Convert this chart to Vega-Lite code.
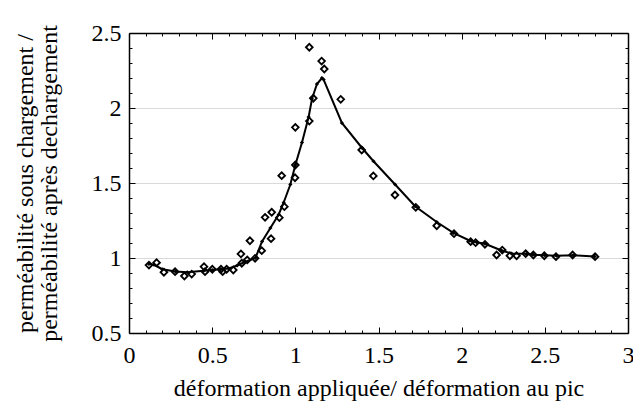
{
  "$schema": "https://vega.github.io/schema/vega-lite/v6.json",
  "autosize": "none",
  "padding": {"left": 129, "top": 33, "right": 5, "bottom": 73},
  "width": 499,
  "height": 300,
  "background": "white",
  "config": {
    "view": {"stroke": null},
    "font": "Liberation Serif",
    "axis": {
      "labelFont": "Liberation Serif",
      "titleFont": "Liberation Serif",
      "labelFontSize": 24,
      "titleFontSize": 24,
      "labelColor": "black",
      "titleColor": "black",
      "titleFontWeight": "normal",
      "domainColor": "black",
      "domainWidth": 1.5,
      "tickColor": "black",
      "tickWidth": 1,
      "labelOverlap": false,
      "labelFlush": false
    }
  },
  "datasets": {
    "mesures": [
      {"x": 0.12, "y": 0.953}, {"x": 0.166, "y": 0.969}, {"x": 0.21, "y": 0.905},
      {"x": 0.277, "y": 0.909}, {"x": 0.333, "y": 0.88}, {"x": 0.377, "y": 0.893},
      {"x": 0.451, "y": 0.942}, {"x": 0.457, "y": 0.909}, {"x": 0.501, "y": 0.925},
      {"x": 0.553, "y": 0.925}, {"x": 0.563, "y": 0.909}, {"x": 0.587, "y": 0.925},
      {"x": 0.627, "y": 0.92}, {"x": 0.673, "y": 1.027}, {"x": 0.678, "y": 0.965},
      {"x": 0.711, "y": 0.987}, {"x": 0.727, "y": 1.115}, {"x": 0.758, "y": 0.998},
      {"x": 0.798, "y": 1.049}, {"x": 0.818, "y": 1.271}, {"x": 0.854, "y": 1.129},
      {"x": 0.858, "y": 1.305}, {"x": 0.904, "y": 1.269}, {"x": 0.918, "y": 1.549},
      {"x": 0.934, "y": 1.342}, {"x": 0.998, "y": 1.535}, {"x": 1.0, "y": 1.871},
      {"x": 1.0, "y": 1.62}, {"x": 1.084, "y": 1.913}, {"x": 1.084, "y": 2.405},
      {"x": 1.108, "y": 2.065}, {"x": 1.158, "y": 2.313}, {"x": 1.174, "y": 2.26},
      {"x": 1.273, "y": 2.058}, {"x": 1.399, "y": 1.72}, {"x": 1.469, "y": 1.547},
      {"x": 1.599, "y": 1.42}, {"x": 1.724, "y": 1.338}, {"x": 1.85, "y": 1.215},
      {"x": 1.954, "y": 1.162}, {"x": 2.054, "y": 1.109}, {"x": 2.084, "y": 1.102},
      {"x": 2.14, "y": 1.091}, {"x": 2.21, "y": 1.02}, {"x": 2.244, "y": 1.053},
      {"x": 2.29, "y": 1.015}, {"x": 2.33, "y": 1.015}, {"x": 2.385, "y": 1.029},
      {"x": 2.431, "y": 1.02}, {"x": 2.497, "y": 1.015}, {"x": 2.567, "y": 1.009},
      {"x": 2.667, "y": 1.02}, {"x": 2.802, "y": 1.009}
    ],
    "courbe": [
      {"x": 0.12, "y": 0.96}, {"x": 0.15, "y": 0.955}, {"x": 0.2, "y": 0.925},
      {"x": 0.28, "y": 0.91}, {"x": 0.35, "y": 0.905}, {"x": 0.45, "y": 0.915},
      {"x": 0.5, "y": 0.92}, {"x": 0.55, "y": 0.925}, {"x": 0.6, "y": 0.93},
      {"x": 0.65, "y": 0.95}, {"x": 0.7, "y": 0.975}, {"x": 0.76, "y": 1.0},
      {"x": 0.8, "y": 1.11}, {"x": 0.85, "y": 1.2}, {"x": 0.9, "y": 1.29},
      {"x": 0.93, "y": 1.37}, {"x": 0.97, "y": 1.49}, {"x": 1.0, "y": 1.62},
      {"x": 1.04, "y": 1.77}, {"x": 1.08, "y": 1.94}, {"x": 1.1, "y": 2.06},
      {"x": 1.13, "y": 2.16}, {"x": 1.16, "y": 2.2}, {"x": 1.17, "y": 2.19},
      {"x": 1.28, "y": 1.9}, {"x": 1.4, "y": 1.735}, {"x": 1.47, "y": 1.645},
      {"x": 1.6, "y": 1.49}, {"x": 1.72, "y": 1.345}, {"x": 1.85, "y": 1.24},
      {"x": 1.95, "y": 1.168}, {"x": 2.05, "y": 1.115}, {"x": 2.09, "y": 1.105},
      {"x": 2.14, "y": 1.095}, {"x": 2.24, "y": 1.05}, {"x": 2.3, "y": 1.03},
      {"x": 2.39, "y": 1.028}, {"x": 2.43, "y": 1.022}, {"x": 2.5, "y": 1.018},
      {"x": 2.57, "y": 1.015}, {"x": 2.67, "y": 1.018}, {"x": 2.8, "y": 1.01}
    ]
  },
  "layer": [
    {
      "data": {"name": "mesures"},
      "mark": {"type": "point", "shape": "diamond", "filled": false, "size": 45, "stroke": "black", "strokeWidth": 1.8, "opacity": 1},
      "encoding": {
        "x": {
          "field": "x", "type": "quantitative",
          "scale": {"domain": [0, 3], "nice": false, "zero": false},
          "axis": {
            "orient": "bottom",
            "title": "déformation appliquée/ déformation au pic",
            "titlePadding": 6,
            "values": [0,0.1,0.2,0.3,0.4,0.5,0.6,0.7,0.8,0.9,1,1.1,1.2,1.3,1.4,1.5,1.6,1.7,1.8,1.9,2,2.1,2.2,2.3,2.4,2.5,2.6,2.7,2.8,2.9,3],
            "labelExpr": "abs(datum.value*2-round(datum.value*2))<0.001 ? format(datum.value,'~g') : ''",
            "tickSize": {"condition": {"test": "abs(datum.value*2-round(datum.value*2))<0.001", "value": -6}, "value": -3},
            "labelPadding": 16,
            "grid": false
          }
        },
        "y": {
          "field": "y", "type": "quantitative",
          "scale": {"domain": [0.5, 2.5], "nice": false, "zero": false},
          "axis": {
            "orient": "left",
            "title": ["perméabilité sous chargement /", "perméabilité après dechargement"],
            "titleLineHeight": 24,
            "titlePadding": 30,
            "values": [0.5,0.6,0.7,0.8,0.9,1,1.1,1.2,1.3,1.4,1.5,1.6,1.7,1.8,1.9,2,2.1,2.2,2.3,2.4,2.5],
            "labelExpr": "abs(datum.value*2-round(datum.value*2))<0.001 ? format(datum.value,'~g') : ''",
            "tickSize": {"condition": {"test": "abs(datum.value*2-round(datum.value*2))<0.001", "value": -6}, "value": -3},
            "labelPadding": 14,
            "grid": true,
            "gridColor": "#d9d9d9",
            "gridWidth": 1,
            "gridOpacity": {"condition": {"test": "abs(datum.value*2-round(datum.value*2))<0.001 && datum.value>0.6 && datum.value<2.4", "value": 1}, "value": 0}
          }
        }
      }
    },
    {
      "data": {"name": "courbe"},
      "mark": {"type": "line", "color": "black", "strokeWidth": 2, "point": {"shape": "diamond", "filled": true, "size": 18, "color": "black"}},
      "encoding": {
        "x": {
          "field": "x", "type": "quantitative",
          "scale": {"domain": [0, 3], "nice": false, "zero": false},
          "axis": {
            "orient": "top", "title": null, "labels": false, "grid": false,
            "values": [0,0.1,0.2,0.3,0.4,0.5,0.6,0.7,0.8,0.9,1,1.1,1.2,1.3,1.4,1.5,1.6,1.7,1.8,1.9,2,2.1,2.2,2.3,2.4,2.5,2.6,2.7,2.8,2.9,3],
            "tickSize": {"condition": {"test": "abs(datum.value*2-round(datum.value*2))<0.001", "value": -6}, "value": -3}
          }
        },
        "y": {
          "field": "y", "type": "quantitative",
          "scale": {"domain": [0.5, 2.5], "nice": false, "zero": false},
          "axis": {
            "orient": "right", "title": null, "labels": false, "grid": false,
            "values": [0.5,0.6,0.7,0.8,0.9,1,1.1,1.2,1.3,1.4,1.5,1.6,1.7,1.8,1.9,2,2.1,2.2,2.3,2.4,2.5],
            "tickSize": {"condition": {"test": "abs(datum.value*2-round(datum.value*2))<0.001", "value": -6}, "value": -3}
          }
        }
      }
    }
  ],
  "resolve": {"axis": {"x": "independent", "y": "independent"}}
}
